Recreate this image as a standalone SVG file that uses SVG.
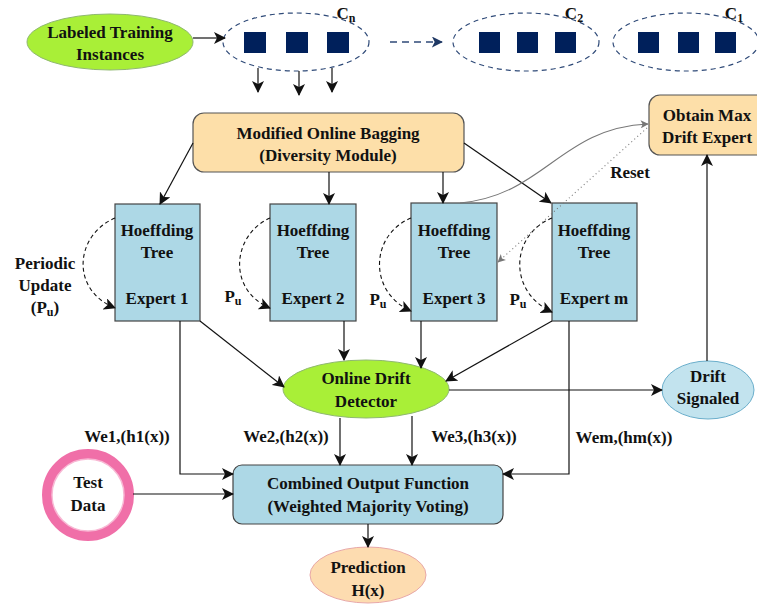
<svg xmlns="http://www.w3.org/2000/svg" width="757" height="609" viewBox="0 0 757 609">
<defs>
<marker id="ah" viewBox="0 0 12 12" refX="11" refY="6" markerWidth="12" markerHeight="12" markerUnits="userSpaceOnUse" orient="auto">
<path d="M0,0 L12,6 L0,12 L3,6 z" fill="#111" stroke="none"/>
</marker>
<marker id="ahb" viewBox="0 0 12 12" refX="11" refY="6" markerWidth="11" markerHeight="11" markerUnits="userSpaceOnUse" orient="auto">
<path d="M0,0 L12,6 L0,12 L3,6 z" fill="#1f3864" stroke="none"/>
</marker>
<marker id="ahg" viewBox="0 0 12 12" refX="11" refY="6" markerWidth="8" markerHeight="8" markerUnits="userSpaceOnUse" orient="auto">
<path d="M0,0 L12,6 L0,12 L3,6 z" fill="#777" stroke="none"/>
</marker>
</defs>
<style>
text{font-family:Tinos,'Times New Roman',Times,'Liberation Serif','Noto Serif','DejaVu Serif','Nimbus Roman','FreeSerif',serif;font-weight:bold;font-size:17px;fill:#111;text-anchor:middle}
.sq{fill:#00205b}
.cl{fill:none;stroke:#2f4a78;stroke-width:1.2;stroke-dasharray:5,4}
.ln{fill:none;stroke:#111;stroke-width:1.2}
.dl{fill:none;stroke:#111;stroke-width:1.1;stroke-dasharray:4,3}
.ex{fill:#add8e6;stroke:#444;stroke-width:1.2}
.or{fill:#fddfa9;stroke:#555;stroke-width:1.2}
.sub{font-size:12px}
</style>

<g id="labeled-training">
<ellipse cx="110" cy="42" rx="83" ry="28" fill="#a9ef37" stroke="#8fb870" stroke-width="1"/>
<text x="110" y="38">Labeled Training</text>
<text x="110" y="60">Instances</text>
</g>

<g id="chunk-cn">
<ellipse cx="296" cy="42" rx="73" ry="29" class="cl"/>
<rect class="sq" x="244" y="32" width="22" height="21"/>
<rect class="sq" x="286" y="32" width="22" height="21"/>
<rect class="sq" x="327" y="32" width="22" height="21"/>
<text x="346" y="19">C<tspan class="sub" dy="3">n</tspan></text>
</g>

<g id="chunk-c2">
<ellipse cx="526" cy="42" rx="73" ry="29" class="cl"/>
<rect class="sq" x="479" y="32" width="21" height="21"/>
<rect class="sq" x="517" y="32" width="21" height="21"/>
<rect class="sq" x="555" y="32" width="21" height="21"/>
<text x="574" y="19">C<tspan class="sub" dy="3">2</tspan></text>
</g>

<g id="chunk-c1">
<ellipse cx="686" cy="42" rx="73" ry="29" class="cl"/>
<rect class="sq" x="638" y="32" width="21" height="21"/>
<rect class="sq" x="678" y="32" width="21" height="21"/>
<rect class="sq" x="715" y="32" width="21" height="21"/>
<text x="734" y="19">C<tspan class="sub" dy="3">1</tspan></text>
</g>

<g id="bagging">
<rect class="or" x="193" y="113" width="271" height="59" rx="11"/>
<text x="328" y="139">Modified Online Bagging</text>
<text x="328" y="161">(Diversity Module)</text>
</g>

<g id="obtain-max">
<rect class="or" x="649" y="95" width="120" height="60" rx="11"/>
<text x="707" y="121">Obtain Max</text>
<text x="707" y="143">Drift Expert</text>
</g>

<g id="expert1">
<rect class="ex" x="115" y="204" width="85" height="117"/>
<text x="157" y="236">Hoeffding</text>
<text x="157" y="258">Tree</text>
<text x="157" y="304">Expert 1</text>
</g>
<g id="expert2">
<rect class="ex" x="270" y="204" width="86" height="117"/>
<text x="313" y="236">Hoeffding</text>
<text x="313" y="258">Tree</text>
<text x="313" y="304">Expert 2</text>
</g>
<g id="expert3">
<rect class="ex" x="411" y="203" width="86" height="118"/>
<text x="454" y="236">Hoeffding</text>
<text x="454" y="258">Tree</text>
<text x="454" y="304">Expert 3</text>
</g>
<g id="expertm">
<rect class="ex" x="552" y="203" width="85" height="118"/>
<text x="594" y="236">Hoeffding</text>
<text x="594" y="258">Tree</text>
<text x="594" y="304">Expert m</text>
</g>

<g id="drift-detector">
<ellipse cx="366" cy="389" rx="83" ry="29" fill="#a9ef37" stroke="#8fb870" stroke-width="1"/>
<text x="366" y="384">Online Drift</text>
<text x="366" y="407">Detector</text>
</g>

<g id="drift-signaled">
<ellipse cx="708" cy="390" rx="46" ry="29" fill="#c2e3ee" stroke="#6aaecb" stroke-width="1"/>
<text x="708" y="382">Drift</text>
<text x="708" y="404">Signaled</text>
</g>

<g id="combined">
<rect class="ex" x="233" y="465" width="270" height="59" rx="9"/>
<text x="368" y="489">Combined Output Function</text>
<text x="368" y="512">(Weighted Majority Voting)</text>
</g>

<g id="test-data">
<circle cx="88" cy="495" r="41" fill="#fff" stroke="#f06fa8" stroke-width="10"/>
<circle cx="88" cy="495" r="36" fill="none" stroke="#f8b8d4" stroke-width="1.5"/>
<text x="88" y="488">Test</text>
<text x="88" y="511">Data</text>
</g>

<g id="prediction">
<ellipse cx="368" cy="575" rx="58" ry="28" fill="#fddcb0" stroke="#e8a8a8" stroke-width="1"/>
<text x="368" y="573">Prediction</text>
<text x="368" y="596">H(x)</text>
</g>

<g id="labels">
<text x="45" y="269">Periodic</text>
<text x="45" y="291">Update</text>
<text x="45" y="313">(P<tspan class="sub" dy="3">u</tspan><tspan dy="-3">)</tspan></text>
<text x="233" y="302">P<tspan class="sub" dy="3">u</tspan></text>
<text x="378" y="305">P<tspan class="sub" dy="3">u</tspan></text>
<text x="518" y="305">P<tspan class="sub" dy="3">u</tspan></text>
<text x="630" y="178">Reset</text>
<text x="127" y="442">We1,(h1(x))</text>
<text x="286" y="442">We2,(h2(x))</text>
<text x="474" y="442">We3,(h3(x))</text>
<text x="624" y="443">Wem,(hm(x))</text>
</g>

<g id="connectors">
<path class="ln" d="M193,38 L225,38" marker-end="url(#ah)"/>
<path class="ln" d="M258,68 L258,92" marker-end="url(#ah)"/>
<path class="ln" d="M299,71 L299,95" marker-end="url(#ah)"/>
<path class="ln" d="M332,68 L332,92" marker-end="url(#ah)"/>
<path d="M390,42 L442,42" fill="none" stroke="#2f4a78" stroke-width="1.3" stroke-dasharray="7,5" marker-end="url(#ahb)"/>

<path class="ln" d="M193,143 L160,204" marker-end="url(#ah)"/>
<path class="ln" d="M329,172 L329,204" marker-end="url(#ah)"/>
<path class="ln" d="M443,172 L443,203" marker-end="url(#ah)"/>
<path class="ln" d="M464,143 L551,203" marker-end="url(#ah)"/>

<path class="dl" d="M115,218 C75,235 70,290 115,308" marker-end="url(#ah)"/>
<path class="dl" d="M270,218 C232,235 227,290 270,308" marker-end="url(#ah)"/>
<path class="dl" d="M411,218 C370,235 368,292 411,311" marker-end="url(#ah)"/>
<path class="dl" d="M552,218 C510,235 508,292 552,312" marker-end="url(#ah)"/>

<path d="M460,203 C545,195 560,128 648,124" fill="none" stroke="#777" stroke-width="1.1" marker-end="url(#ahg)"/>
<path d="M647,128 L498,262" fill="none" stroke="#777" stroke-width="1.1" stroke-dasharray="1,3" marker-end="url(#ahg)"/>

<path class="ln" d="M200,321 L284,387" marker-end="url(#ah)"/>
<path class="ln" d="M344,321 L344,360" marker-end="url(#ah)"/>
<path class="ln" d="M421,321 L421,368" marker-end="url(#ah)"/>
<path class="ln" d="M552,321 L446,381" marker-end="url(#ah)"/>

<path class="ln" d="M449,390 L662,390" marker-end="url(#ah)"/>
<path class="ln" d="M707,361 L707,155" marker-end="url(#ah)"/>

<path class="ln" d="M180,321 L180,474 L233,474" marker-end="url(#ah)"/>
<path class="ln" d="M569,321 L569,474 L503,474" marker-end="url(#ah)"/>
<path class="ln" d="M340,418 L340,465" marker-end="url(#ah)"/>
<path class="ln" d="M412,416 L412,465" marker-end="url(#ah)"/>
<path class="ln" d="M133,494 L233,494" marker-end="url(#ah)"/>
<path class="ln" d="M368,524 L368,547" marker-end="url(#ah)"/>
</g>
</svg>
